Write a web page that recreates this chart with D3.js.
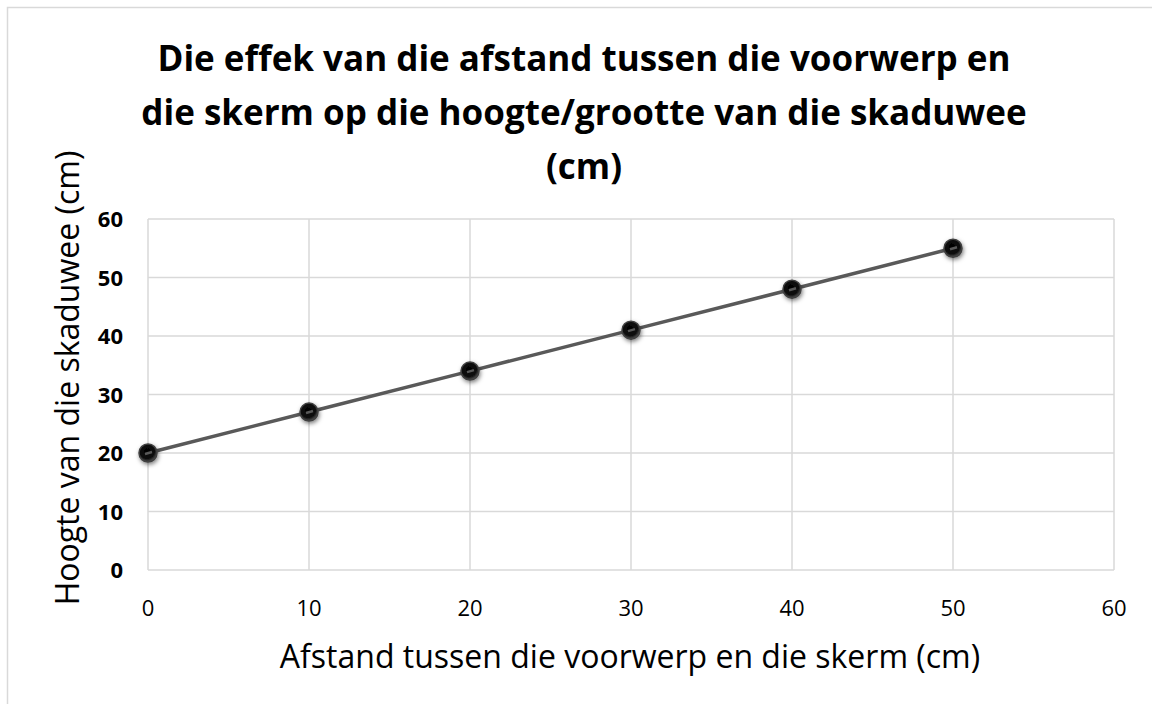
<!DOCTYPE html>
<html lang="af">
<head>
<meta charset="utf-8">
<title>Skaduwee</title>
<script src="https://cdn.jsdelivr.net/npm/d3@7"></script>
<style>
  body { margin: 0; background: #fff; }
  text { font-family: "Open Sans", sans-serif; fill: #000; }
  .grid line { stroke: #d9d9d9; stroke-width: 1.5px; }
</style>
</head>
<body>
<script>
// data
var afstand = [0, 10, 20, 30, 40, 50];
var hoogte = [20, 27, 34, 41, 48, 55];
var xTicks = [0, 10, 20, 30, 40, 50, 60];
var yTicks = [0, 10, 20, 30, 40, 50, 60];
var titleLines = ["Die effek van die afstand tussen die voorwerp en",
                  "die skerm op die hoogte/grootte van die skaduwee",
                  "(cm)"];
var xTitle = "Afstand tussen die voorwerp en die skerm (cm)";
var yTitle = "Hoogte van die skaduwee (cm)";

var w = 1152, h = 704;
var plotLeft = 148, plotRight = 1114, plotTop = 219, plotBottom = 570;

var svg = d3.select("body").append("svg")
  .attr("width", w).attr("height", h);

var defs = svg.append("defs");
var f = defs.append("filter").attr("id", "shadow")
  .attr("x", "-50%").attr("y", "-50%").attr("width", "200%").attr("height", "200%");
f.append("feDropShadow").attr("dx", 1).attr("dy", 2).attr("stdDeviation", 2)
  .attr("flood-color", "#000").attr("flood-opacity", 0.5);
var grad = defs.append("radialGradient").attr("id", "dot")
  .attr("cx", "45%").attr("cy", "40%").attr("r", "60%");
grad.append("stop").attr("offset", "0%").attr("stop-color", "#000");
grad.append("stop").attr("offset", "70%").attr("stop-color", "#111");
grad.append("stop").attr("offset", "100%").attr("stop-color", "#555");

// chart border
svg.append("rect")
  .attr("x", 7.5).attr("y", 7.5).attr("width", w).attr("height", h)
  .attr("fill", "none").attr("stroke", "#d9d9d9").attr("stroke-width", 1.5);

var x = d3.scaleLinear().domain([0, 60]).range([plotLeft, plotRight]);
var y = d3.scaleLinear().domain([0, 60]).range([plotBottom, plotTop]);

// gridlines
var grid = svg.append("g").attr("class", "grid");
grid.selectAll(".gx").data(xTicks).enter().append("line")
  .attr("x1", d => x(d)).attr("x2", d => x(d))
  .attr("y1", y(0)).attr("y2", y(60));
grid.selectAll(".gy").data(yTicks).enter().append("line")
  .attr("x1", x(0)).attr("x2", x(60))
  .attr("y1", d => y(d)).attr("y2", d => y(d));

// tick labels
svg.append("g").selectAll("text").data(xTicks).enter().append("text")
  .attr("x", d => x(d)).attr("y", 616)
  .attr("text-anchor", "middle")
  .style("font-size", "22px")
  .text(d => d);
svg.append("g").selectAll("text").data(yTicks).enter().append("text")
  .attr("x", 123).attr("y", d => y(d) + 8)
  .attr("text-anchor", "end")
  .style("font-size", "22px").style("font-weight", "bold")
  .text(d => d);

// line
var pts = afstand.map((d, i) => [d, hoogte[i]]);
svg.append("path").datum(pts)
  .attr("fill", "none").attr("stroke", "#595959").attr("stroke-width", 3.5)
  .attr("d", d3.line().x(d => x(d[0])).y(d => y(d[1])));

// markers
svg.append("g").selectAll("circle").data(pts).enter().append("circle")
  .attr("cx", d => x(d[0])).attr("cy", d => y(d[1])).attr("r", 9)
  .attr("fill", "url(#dot)").attr("stroke", "#404040").attr("stroke-width", 1.5)
  .attr("filter", "url(#shadow)");
svg.append("g").selectAll("line").data(pts).enter().append("line")
  .attr("x1", d => x(d[0]) - 3).attr("y1", d => y(d[1]) + 1)
  .attr("x2", d => x(d[0]) + 4).attr("y2", d => y(d[1]) - 1)
  .attr("stroke", "#595959").attr("stroke-width", 2.5);

// title
svg.append("g").selectAll("text").data(titleLines).enter().append("text")
  .attr("x", 584).attr("y", (d, i) => 71 + i * 54)
  .attr("text-anchor", "middle")
  .style("font-size", "35px").style("font-weight", "bold")
  .text(d => d);

// axis titles
svg.append("text")
  .attr("x", 630).attr("y", 668)
  .attr("text-anchor", "middle")
  .style("font-size", "32px")
  .text(xTitle);
svg.append("text")
  .attr("transform", "translate(79,378) rotate(-90)")
  .attr("text-anchor", "middle")
  .style("font-size", "32px")
  .text(yTitle);
</script>
</body>
</html>
